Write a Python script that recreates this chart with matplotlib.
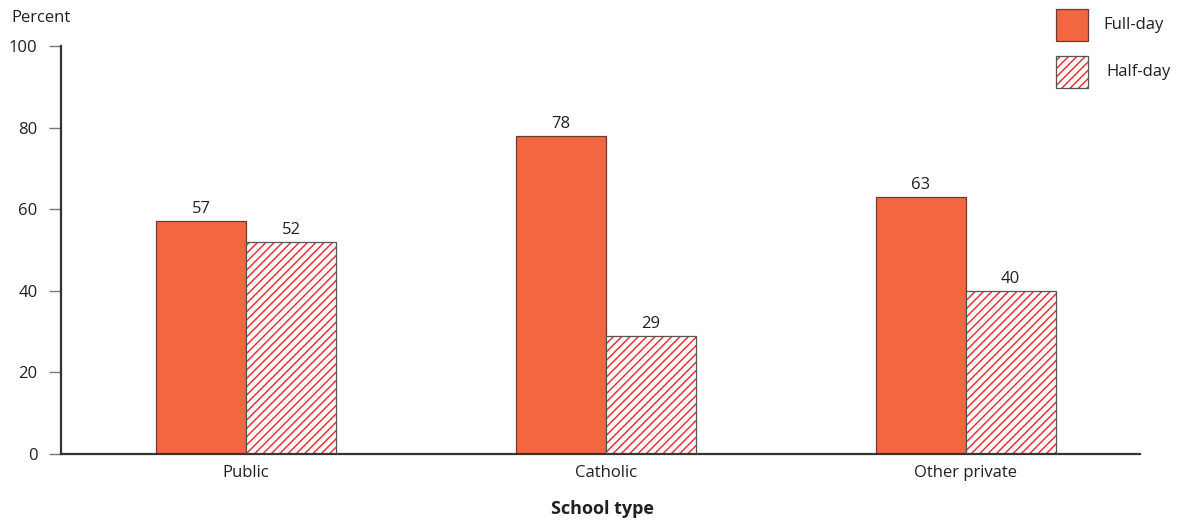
import matplotlib
matplotlib.use("Agg")
import matplotlib.pyplot as plt
from matplotlib.patches import Rectangle
import numpy as np

categories = ["Public", "Catholic", "Other private"]
full_day = [57, 78, 63]
half_day = [52, 29, 40]
series_names = ["Full-day", "Half-day"]
y_ticks = [0, 20, 40, 60, 80, 100]

plt.rcParams['font.family'] = ['Open Sans', 'DejaVu Sans']
plt.rcParams['hatch.linewidth'] = 1.1

fill_color = "#F26641"
edge_full = "#6b3a30"
hatch_red = "#E8323C"
edge_gray = "#555555"
text_color = "#231f20"
fs = 12
hatch_style = "////"

fig = plt.figure(figsize=(11.8, 5.23), dpi=100)
ax = fig.add_axes([0.0517, 0.132, 0.914, 0.780])

x = np.arange(len(categories))
w = 0.25

ax.bar(x - w / 2, full_day, width=w, color=fill_color, edgecolor=edge_full, linewidth=0.9, zorder=2)
# hatched bars: red hatch lines, then a gray outline on top
ax.bar(x + w / 2, half_day, width=w, color="white", edgecolor=hatch_red, hatch=hatch_style, linewidth=0, zorder=2)
ax.bar(x + w / 2, half_day, width=w, fill=False, edgecolor=edge_gray, linewidth=0.9, zorder=3)

for xi, v in zip(x - w / 2, full_day):
    ax.text(xi, v + 1.0, f"{v}", ha="center", va="bottom", fontsize=fs, color=text_color)
for xi, v in zip(x + w / 2, half_day):
    ax.text(xi, v + 1.0, f"{v}", ha="center", va="bottom", fontsize=fs, color=text_color)

ax.set_xlim(-0.514, 2.483)
ax.set_ylim(0, 100)
ax.set_yticks(y_ticks)
ax.set_yticklabels([str(t) for t in y_ticks], fontsize=fs, color=text_color)
ax.set_xticks(x)
ax.set_xticklabels(categories, fontsize=fs, color=text_color)
ax.tick_params(axis="x", length=0, pad=8)
ax.tick_params(axis="y", length=9, width=1.0, color="#777777", pad=8)

for s in ["top", "right"]:
    ax.spines[s].set_visible(False)
for s in ["left", "bottom"]:
    ax.spines[s].set_color("#333333")
    ax.spines[s].set_linewidth(1.6)

W, H = 1180, 523
fig.text(602 / W, (H - 509) / H, "School type", fontsize=13, fontweight="bold",
         color=text_color, ha="center", va="center")
fig.text(0.010, (H - 18) / H, "Percent", fontsize=fs, color=text_color, ha="left", va="center")

# legend boxes drawn in figure coordinates
fig.patches.append(Rectangle((1056 / W, (H - 41) / H), 32 / W, 32 / H, transform=fig.transFigure,
                             facecolor=fill_color, edgecolor=edge_full, linewidth=0.9))
fig.patches.append(Rectangle((1056 / W, (H - 88) / H), 32 / W, 32 / H, transform=fig.transFigure,
                             facecolor="white", edgecolor=hatch_red, hatch=hatch_style, linewidth=0))
fig.patches.append(Rectangle((1056 / W, (H - 88) / H), 32 / W, 32 / H, transform=fig.transFigure,
                             fill=False, edgecolor=edge_gray, linewidth=0.9))
fig.text(1103 / W, (H - 25) / H, series_names[0], fontsize=fs, color=text_color, va="center", ha="left")
fig.text(1106 / W, (H - 72) / H, series_names[1], fontsize=fs, color=text_color, va="center", ha="left")

fig.savefig("out.png", dpi=100)
